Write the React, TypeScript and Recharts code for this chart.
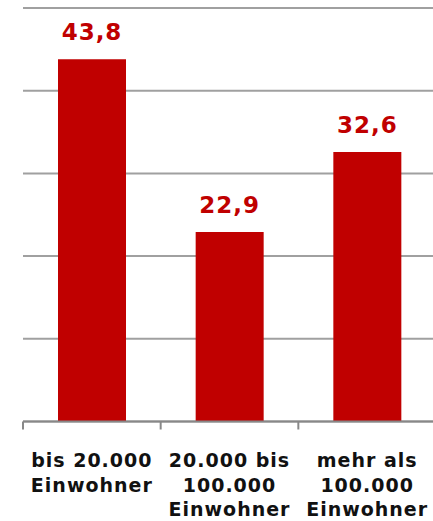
import React from "react";
import { BarChart, Bar, XAxis, YAxis, CartesianGrid, LabelList } from "recharts";

const categories = ["bis 20.000|Einwohner", "20.000 bis|100.000|Einwohner", "mehr als|100.000|Einwohner"];
const values = [43.8, 22.9, 32.6];
const valueLabels = ["43,8", "22,9", "32,6"];
const yTicks = [0, 10, 20, 30, 40, 50];

const data = categories.map((c, i) => ({ name: c, value: values[i], label: valueLabels[i] }));

const RED = "#C00000";

const CatTick = (props: any) => {
  const { x, y, payload } = props;
  const off = payload && payload.offset ? payload.offset : 0;
  const lines = String(payload.value).split("|");
  return (
    <g>
      <line x1={x - off} x2={x - off} y1={y} y2={y + 8} stroke="#888" strokeWidth={2} />
      <text
        x={x}
        y={y + 45.5}
        textAnchor="middle"
        fill="#111"
        style={{ fontFamily: "DejaVu Sans", fontWeight: "bold", fontSize: 19, letterSpacing: 1 }}
      >
        {lines.map((l, i) => (
          <tspan key={i} x={x} dy={i === 0 ? 0 : 24.5}>
            {l}
          </tspan>
        ))}
      </text>
    </g>
  );
};

const ValueLabel = (props: any) => {
  const { x, y, width, index } = props;
  return (
    <text
      x={x + width / 2}
      y={y - 19}
      textAnchor="middle"
      fill={RED}
      style={{ fontFamily: "DejaVu Sans", fontWeight: "bold", fontSize: 23, letterSpacing: 1 }}
    >
      {valueLabels[index]}
    </text>
  );
};

export default function App() {
  return (
    <div style={{ position: "absolute", left: 0, top: 0, width: 433, height: 521, overflow: "hidden", background: "#fff" }}>
      <BarChart
        width={440}
        height={521}
        data={data}
        margin={{ top: 8, right: 4, left: 23, bottom: 98.5 }}
        barSize={68}
      >
        <CartesianGrid vertical={false} stroke="#a0a0a0" strokeWidth={2} />
        <YAxis hide domain={[0, 50]} ticks={yTicks} />
        <XAxis
          dataKey="name"
          height={1}
          axisLine={{ stroke: "#888", strokeWidth: 2 }}
          tickLine={false}
          tickSize={0}
          tickMargin={0}
          interval={0}
          tick={<CatTick />}
        />
        <Bar dataKey="value" fill={RED} isAnimationActive={false}>
          <LabelList dataKey="label" content={<ValueLabel />} />
        </Bar>
      </BarChart>
    </div>
  );
}
